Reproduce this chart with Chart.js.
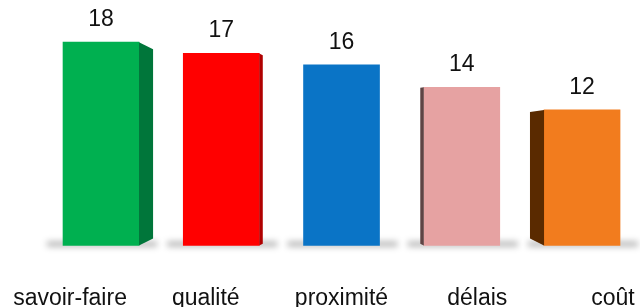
<!DOCTYPE html>
<html>
<head>
<meta charset="utf-8">
<script src="https://cdn.jsdelivr.net/npm/chart.js@4.4.0/dist/chart.umd.min.js"></script>
<style>
  html, body { margin: 0; padding: 0; background: #fff; }
  #wrap { width: 640px; height: 307px; }
</style>
</head>
<body>
<div id="wrap"><canvas id="chart"></canvas></div>
<script>
const categories = ['savoir-faire', 'qualité', 'proximité', 'délais', 'coût'];
const values = [18, 17, 16, 14, 12];

const frontColors = ['#00b050', '#ff0000', '#0a74c6', '#e6a2a2', '#f27c1e'];
const sideColors = ['#00763a', '#b00000', '#04508c', '#5e4444', '#5a2a00'];
const labelFont = '"Liberation Sans", Arial, sans-serif';

// side faces, floor shadow, value labels and category labels
const bar3d = {
  id: 'bar3d',
  beforeDatasetsDraw(chart) {
    const ctx = chart.ctx;
    const bars = chart.getDatasetMeta(0).data;
    ctx.save();
    ctx.filter = 'blur(3px)';
    ctx.fillStyle = 'rgba(0, 0, 0, 0.3)';
    bars.forEach(bar => {
      const { x, base, width } = bar.getProps(['x', 'base', 'width'], true);
      ctx.fillRect(x - width / 2 - 16, base - 4, width + 34, 5);
    });
    ctx.restore();
  },
  afterDatasetsDraw(chart) {
    const ctx = chart.ctx;
    const bars = chart.getDatasetMeta(0).data;
    const mid = bars[Math.floor(bars.length / 2)].x;
    ctx.save();
    bars.forEach((bar, i) => {
      const { x, y, base, width } = bar.getProps(['x', 'y', 'base', 'width'], true);
      const d = (x - mid) / 240;
      const w = 14 * d * d;
      if (w > 0.5) {
        ctx.fillStyle = sideColors[i];
        ctx.beginPath();
        if (d < 0) {
          const r = x + width / 2;
          ctx.moveTo(r, y);
          ctx.lineTo(r + w, y + w / 2);
          ctx.lineTo(r + w, base - w / 2);
          ctx.lineTo(r, base);
        } else {
          const l = x - width / 2;
          ctx.moveTo(l, y);
          ctx.lineTo(l - w, y + w * 0.15);
          ctx.lineTo(l - w, base - w / 2);
          ctx.lineTo(l, base);
        }
        ctx.closePath();
        ctx.fill();
      }
      ctx.fillStyle = '#111';
      ctx.font = '23px ' + labelFont;
      ctx.textAlign = 'center';
      ctx.textBaseline = 'alphabetic';
      ctx.fillText(String(values[i]), x, y - 16);
    });

    // category labels, placed along the x2 scale
    const x2 = chart.scales.x2;
    categories.forEach((c, i) => {
      ctx.fillText(c, x2.getPixelForValue(i), chart.chartArea.bottom - 2);
    });
    ctx.restore();
  }
};

const ctx = document.getElementById('chart').getContext('2d');
const chart = new Chart(ctx, {
  type: 'bar',
  data: {
    datasets: [{
      data: values.map((v, i) => ({ x: i, y: v })),
      backgroundColor: frontColors,
      borderWidth: 0,
      barThickness: 76
    }]
  },
  options: {
    responsive: true,
    maintainAspectRatio: false,
    animation: false,
    layout: { padding: 0 },
    plugins: {
      legend: { display: false },
      tooltip: { enabled: false }
    },
    scales: {
      x: {
        type: 'linear',
        display: false,
        offset: false,
        min: -0.84,
        max: 4.482
      },
      x2: {
        type: 'linear',
        display: false,
        offset: false,
        min: -0.516,
        max: 4.199
      },
      y: {
        display: false,
        min: -5.44,
        max: 21.73
      }
    }
  },
  plugins: [bar3d]
});
</script>
</body>
</html>
